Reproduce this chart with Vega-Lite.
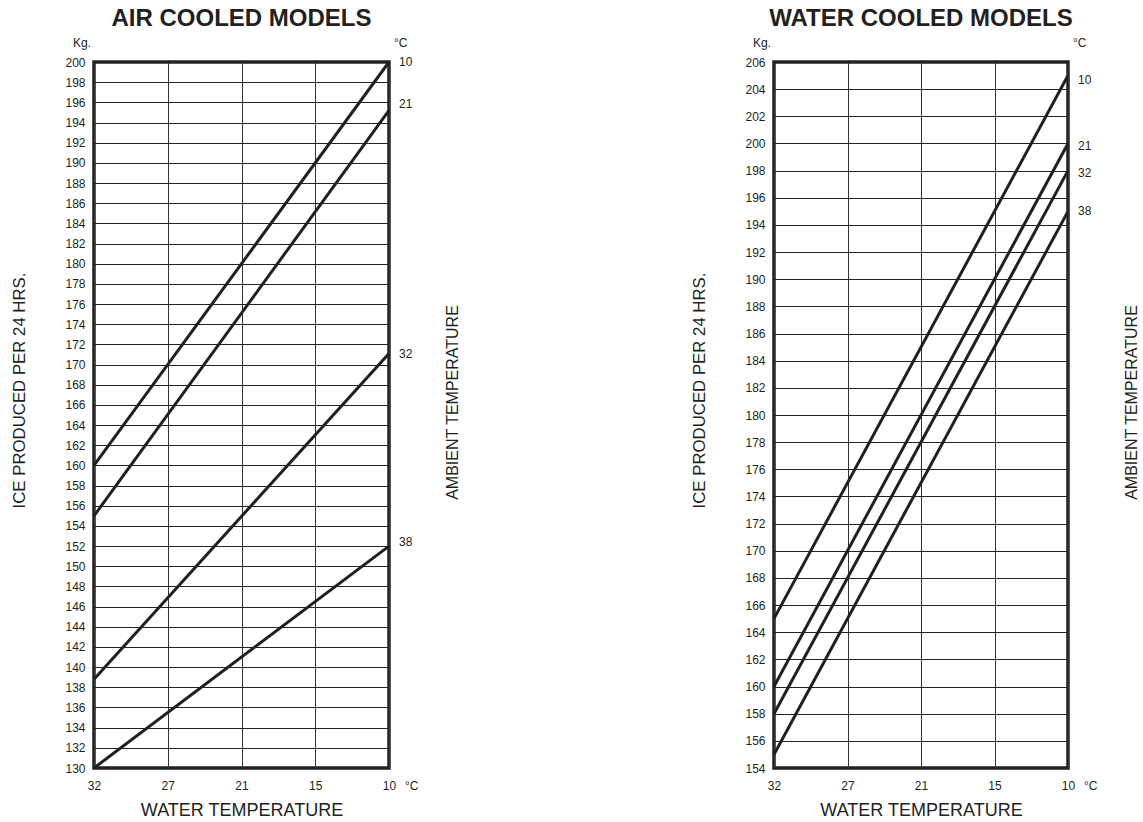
{
  "$schema": "https://vega.github.io/schema/vega-lite/v6.json",
  "background": "white",
  "padding": {"left": 10, "top": 5, "right": 5, "bottom": 5},
  "config": {
    "font": "Liberation Sans",
    "view": {"stroke": "#231f20", "strokeWidth": 3.5},
    "title": {"font": "Liberation Sans", "fontSize": 24, "fontWeight": "bold", "color": "#231f20", "anchor": "middle", "offset": 6},
    "axis": {"labelFont": "Liberation Sans", "titleFont": "Liberation Sans", "labelColor": "#231f20", "titleColor": "#231f20", "labelFontSize": 12, "titleFontSize": 16, "titleFontWeight": "normal", "ticks": false, "domain": false}
  },
  "datasets": {
    "lines": [
      {"panel": "air", "ambient": "10", "water": "32", "kg": 160},
      {"panel": "air", "ambient": "10", "water": "10", "kg": 200},
      {"panel": "air", "ambient": "21", "water": "32", "kg": 155},
      {"panel": "air", "ambient": "21", "water": "10", "kg": 195.2},
      {"panel": "air", "ambient": "32", "water": "32", "kg": 138.8},
      {"panel": "air", "ambient": "32", "water": "10", "kg": 171.1},
      {"panel": "air", "ambient": "38", "water": "32", "kg": 130},
      {"panel": "air", "ambient": "38", "water": "10", "kg": 152},
      {"panel": "water", "ambient": "10", "water": "32", "kg": 165},
      {"panel": "water", "ambient": "10", "water": "10", "kg": 205},
      {"panel": "water", "ambient": "21", "water": "32", "kg": 160},
      {"panel": "water", "ambient": "21", "water": "10", "kg": 200},
      {"panel": "water", "ambient": "32", "water": "32", "kg": 158},
      {"panel": "water", "ambient": "32", "water": "10", "kg": 198},
      {"panel": "water", "ambient": "38", "water": "32", "kg": 155},
      {"panel": "water", "ambient": "38", "water": "10", "kg": 195}
    ],
    "airLabels": [
      {"ambient": "10", "water": "10", "kg": 200},
      {"ambient": "21", "water": "10", "kg": 195.8},
      {"ambient": "32", "water": "10", "kg": 171},
      {"ambient": "38", "water": "10", "kg": 152.4}
    ],
    "waterLabels": [
      {"ambient": "10", "water": "10", "kg": 204.7},
      {"ambient": "21", "water": "10", "kg": 199.8},
      {"ambient": "32", "water": "10", "kg": 197.8},
      {"ambient": "38", "water": "10", "kg": 195.0}
    ]
  },
  "spacing": 228,
  "hconcat": [
    {
      "title": "AIR COOLED MODELS",
      "width": 295,
      "height": 706,
      "resolve": {"axis": {"y": "independent"}},
      "layer": [
        {
          "data": {"name": "lines"},
          "transform": [{"filter": "datum.panel === 'air'"}],
          "mark": {"type": "line", "color": "#231f20", "strokeWidth": 3},
          "encoding": {
            "x": {"field": "water", "type": "ordinal", "scale": {"type": "point", "domain": ["32", "27", "21", "15", "10"], "padding": 0},
              "axis": {"title": "WATER TEMPERATURE", "titleFontSize": 18, "labelAngle": 0, "labelPadding": 12, "titlePadding": 10, "grid": true, "gridColor": "#333", "gridWidth": 1}},
            "y": {"field": "kg", "type": "quantitative", "scale": {"domain": [130, 200], "nice": false, "zero": false},
              "axis": {"title": "ICE PRODUCED PER 24 HRS.", "titleFontSize": 16.8, "titleY": 328, "orient": "left", "values": [130,132,134,136,138,140,142,144,146,148,150,152,154,156,158,160,162,164,166,168,170,172,174,176,178,180,182,184,186,188,190,192,194,196,198,200], "labelPadding": 9, "titlePadding": 36, "grid": true, "gridColor": "#222", "gridWidth": 1}},
            "detail": {"field": "ambient"}
          }
        },
        {
          "data": {"name": "airLabels"},
          "mark": {"type": "text", "align": "left", "baseline": "middle", "dx": 10, "fontSize": 12, "color": "#231f20"},
          "encoding": {
            "x": {"field": "water", "type": "ordinal"},
            "y": {"field": "kg", "type": "quantitative", "axis": {"title": "AMBIENT TEMPERATURE", "titleY": 340, "orient": "right", "labels": false, "grid": false, "titleAngle": 270, "titlePadding": 71}},
            "text": {"field": "ambient"}
          }
        },
        {
          "data": {"values": [{"t": "Kg.", "water": "32", "kg": 200}]},
          "mark": {"type": "text", "align": "right", "baseline": "middle", "dx": -3, "dy": -19, "fontSize": 12, "color": "#231f20", "letterSpacing": 2},
          "encoding": {
            "x": {"field": "water", "type": "ordinal"},
            "y": {"field": "kg", "type": "quantitative", "axis": null},
            "text": {"field": "t"}
          }
        },
        {
          "data": {"values": [{"t": "°C", "water": "10", "kg": 200}]},
          "mark": {"type": "text", "align": "left", "baseline": "middle", "dx": 5, "dy": -19, "fontSize": 12, "color": "#231f20"},
          "encoding": {
            "x": {"field": "water", "type": "ordinal"},
            "y": {"field": "kg", "type": "quantitative", "axis": null},
            "text": {"field": "t"}
          }
        },
        {
          "data": {"values": [{"t": "°C", "water": "10", "kg": 130}]},
          "mark": {"type": "text", "align": "left", "baseline": "middle", "dx": 16, "dy": 18, "fontSize": 12, "color": "#231f20"},
          "encoding": {
            "x": {"field": "water", "type": "ordinal"},
            "y": {"field": "kg", "type": "quantitative", "axis": null},
            "text": {"field": "t"}
          }
        }
      ]
    },
    {
      "title": "WATER COOLED MODELS",
      "width": 294,
      "height": 706,
      "resolve": {"axis": {"y": "independent"}},
      "layer": [
        {
          "data": {"name": "lines"},
          "transform": [{"filter": "datum.panel === 'water'"}],
          "mark": {"type": "line", "color": "#231f20", "strokeWidth": 3},
          "encoding": {
            "x": {"field": "water", "type": "ordinal", "scale": {"type": "point", "domain": ["32", "27", "21", "15", "10"], "padding": 0},
              "axis": {"title": "WATER TEMPERATURE", "titleFontSize": 18, "labelAngle": 0, "labelPadding": 12, "titlePadding": 10, "grid": true, "gridColor": "#333", "gridWidth": 1}},
            "y": {"field": "kg", "type": "quantitative", "scale": {"domain": [154, 206], "nice": false, "zero": false},
              "axis": {"title": "ICE PRODUCED PER 24 HRS.", "titleFontSize": 16.8, "titleY": 328, "orient": "left", "values": [154,156,158,160,162,164,166,168,170,172,174,176,178,180,182,184,186,188,190,192,194,196,198,200,202,204,206], "labelPadding": 9, "titlePadding": 36, "grid": true, "gridColor": "#222", "gridWidth": 1}},
            "detail": {"field": "ambient"}
          }
        },
        {
          "data": {"name": "waterLabels"},
          "mark": {"type": "text", "align": "left", "baseline": "middle", "dx": 10, "fontSize": 12, "color": "#231f20"},
          "encoding": {
            "x": {"field": "water", "type": "ordinal"},
            "y": {"field": "kg", "type": "quantitative", "axis": {"title": "AMBIENT TEMPERATURE", "titleY": 340, "orient": "right", "labels": false, "grid": false, "titleAngle": 270, "titlePadding": 71}},
            "text": {"field": "ambient"}
          }
        },
        {
          "data": {"values": [{"t": "Kg.", "water": "32", "kg": 206}]},
          "mark": {"type": "text", "align": "right", "baseline": "middle", "dx": -3, "dy": -19, "fontSize": 12, "color": "#231f20", "letterSpacing": 2},
          "encoding": {
            "x": {"field": "water", "type": "ordinal"},
            "y": {"field": "kg", "type": "quantitative", "axis": null},
            "text": {"field": "t"}
          }
        },
        {
          "data": {"values": [{"t": "°C", "water": "10", "kg": 206}]},
          "mark": {"type": "text", "align": "left", "baseline": "middle", "dx": 5, "dy": -19, "fontSize": 12, "color": "#231f20"},
          "encoding": {
            "x": {"field": "water", "type": "ordinal"},
            "y": {"field": "kg", "type": "quantitative", "axis": null},
            "text": {"field": "t"}
          }
        },
        {
          "data": {"values": [{"t": "°C", "water": "10", "kg": 154}]},
          "mark": {"type": "text", "align": "left", "baseline": "middle", "dx": 16, "dy": 18, "fontSize": 12, "color": "#231f20"},
          "encoding": {
            "x": {"field": "water", "type": "ordinal"},
            "y": {"field": "kg", "type": "quantitative", "axis": null},
            "text": {"field": "t"}
          }
        }
      ]
    }
  ]
}
